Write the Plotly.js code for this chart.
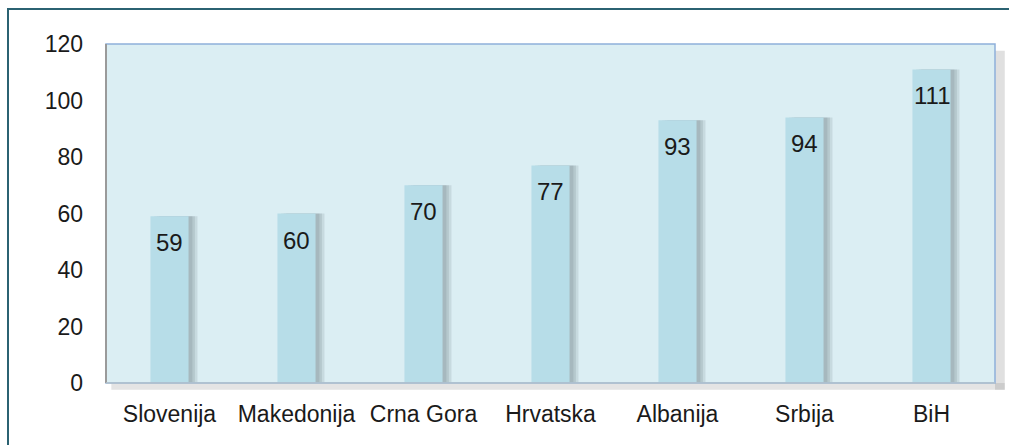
<!DOCTYPE html>
<html>
<head>
<meta charset="utf-8">
<script src="https://cdn.plot.ly/plotly-3.0.1.min.js"></script>
<style>
  html, body { margin: 0; padding: 0; background: #ffffff; overflow: hidden; }
  #chart { width: 1009px; height: 445px; position: absolute; left: 0; top: 0; }
  #frame { position: absolute; left: 7px; top: 8px; width: 1100px; height: 600px;
           border-left: 2px solid #2b6272; border-top: 2px solid #2b6272; pointer-events: none; }
</style>
</head>
<body>
<div id="chart"></div>
<div id="frame"></div>
<script>
const categories = ["Slovenija", "Makedonija", "Crna Gora", "Hrvatska", "Albanija", "Srbija", "BiH"];
const values = [59, 60, 70, 77, 93, 94, 111];
const yTicks = [0, 20, 40, 60, 80, 100, 120];

const barWidth = 0.3;
const shadowLayers = [0.03, 0.05, 0.07];

const traces = [];
shadowLayers.forEach(function (dx) {
  traces.push({
    type: "bar",
    x: categories,
    y: values,
    width: barWidth,
    offset: -barWidth / 2 + dx,
    marker: { color: "rgba(60,70,80,0.12)", line: { width: 0 } },
    hoverinfo: "skip",
    showlegend: false
  });
});
traces.push({
  type: "bar",
  x: categories,
  y: values,
  width: barWidth,
  offset: -barWidth / 2,
  marker: { color: "#b7dde8", line: { width: 0 } },
  showlegend: false
});

const annotations = categories.map(function (c, i) {
  return {
    x: c, y: values[i], xref: "x", yref: "y",
    text: String(values[i]),
    showarrow: false, yanchor: "top", yshift: -11,
    font: { family: "Liberation Sans, Arial, sans-serif", size: 24, color: "#1a1a1a" }
  };
});

const layout = {
  width: 1009, height: 445,
  margin: { l: 106, r: 14, t: 44, b: 62, pad: 0 },
  paper_bgcolor: "rgba(0,0,0,0)",
  plot_bgcolor: "#dbeef3",
  barmode: "overlay",
  font: { family: "Liberation Sans, Arial, sans-serif", size: 23, color: "#1a1a1a" },
  xaxis: {
    type: "category",
    showgrid: false, zeroline: false, showline: false,
    ticks: "", ticklabelstandoff: 15,
    tickfont: { size: 23, color: "#1a1a1a" }
  },
  yaxis: {
    range: [0, 120],
    tickvals: yTicks,
    showgrid: false, zeroline: false, showline: false,
    ticks: "", ticklabelstandoff: 22,
    tickfont: { size: 23, color: "#1a1a1a" }
  },
  shapes: [
    { type: "rect", xref: "paper", yref: "paper", x0: 1.0, x1: 1.011, y0: -0.02, y1: 0.98,
      fillcolor: "rgba(130,130,130,0.25)", line: { width: 0 }, layer: "below" },
    { type: "rect", xref: "paper", yref: "paper", x0: 0.006, x1: 1.011, y0: -0.02, y1: 0,
      fillcolor: "rgba(130,130,130,0.22)", line: { width: 0 }, layer: "below" },
    { type: "rect", xref: "paper", yref: "paper", x0: 0, x1: 1, y0: 0, y1: 1,
      fillcolor: "rgba(0,0,0,0)", line: { color: "#8eb0da", width: 1.5 }, layer: "above" },
    { type: "line", xref: "paper", yref: "paper", x0: 0, x1: 0, y0: 0, y1: 1,
      line: { color: "#9a9a9a", width: 2 }, layer: "above" },
    { type: "line", xref: "paper", yref: "paper", x0: 0, x1: 1, y0: 0, y1: 0,
      line: { color: "#b5c3cc", width: 1.5 }, layer: "above" }
  ],
  annotations: annotations
};

Plotly.newPlot("chart", traces, layout, { displayModeBar: false, staticPlot: true });
</script>
</body>
</html>
